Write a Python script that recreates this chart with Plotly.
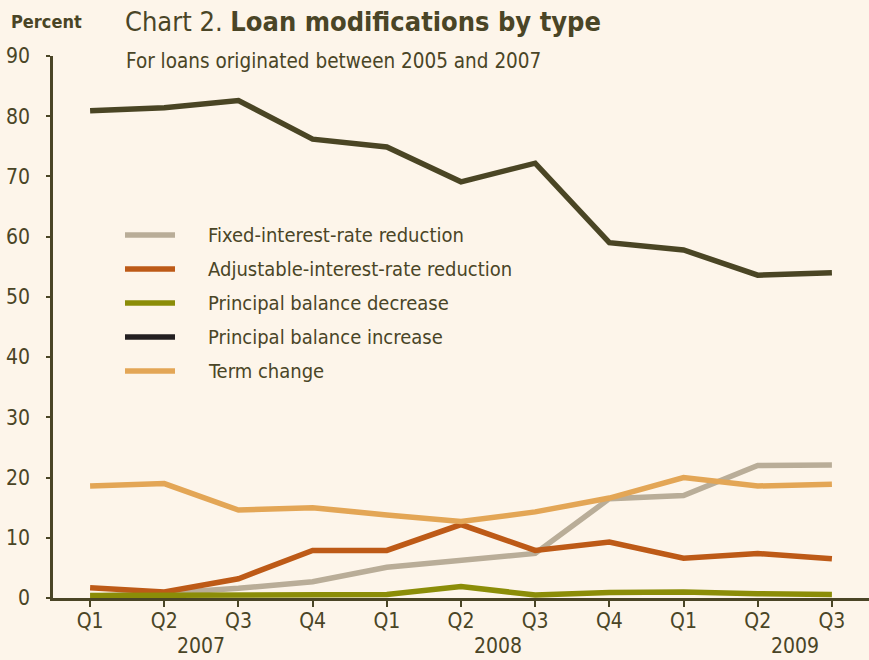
import plotly.graph_objects as go

# Quarterly categories (2007 Q1 through 2009 Q3)
quarters = ["Q1", "Q2", "Q3", "Q4", "Q1", "Q2", "Q3", "Q4", "Q1", "Q2", "Q3"]
years = ["2007", "2008", "2009"]
year_centers = [1.5, 5.5, 9.5]
y_ticks = [0, 10, 20, 30, 40, 50, 60, 70, 80, 90]

# Share of modifications by type, percent
fixed_rate_reduction = [0.3, 0.8, 1.6, 2.7, 5.1, 6.3, 7.4, 16.5, 17.0, 22.0, 22.1]
adjustable_rate_reduction = [1.7, 1.0, 3.2, 7.9, 7.9, 12.2, 7.9, 9.3, 6.6, 7.4, 6.5]
principal_decrease = [0.4, 0.4, 0.4, 0.4, 0.6, 1.9, 0.5, 0.9, 1.0, 0.7, 0.6]
principal_increase = [80.9, 81.4, 82.6, 76.2, 74.9, 69.1, 72.2, 59.0, 57.8, 53.6, 54.0]
term_change = [18.6, 19.0, 14.6, 15.0, 13.8, 12.7, 14.3, 16.6, 20.0, 18.6, 18.9]

series_names = [
    "Fixed-interest-rate reduction",
    "Adjustable-interest-rate reduction",
    "Principal balance decrease",
    "Principal balance increase",
    "Term change",
]
series_values = [fixed_rate_reduction, adjustable_rate_reduction,
                 principal_decrease, principal_increase, term_change]
line_colors = ["#b9ad98", "#bd5a17", "#8b8d08", "#4a4524", "#e3a656"]
legend_colors = ["#b9ad98", "#bd5a17", "#8b8d08", "#231f20", "#e3a656"]
draw_order = [0, 1, 4, 2, 3]

BG = "#fdf5ea"
INK = "#4a4526"
FONT = "DejaVu Sans Condensed, Liberation Sans Narrow, Arial Narrow, sans-serif"

x_idx = list(range(len(quarters)))

fig = go.Figure()
for i in draw_order:
    fig.add_trace(go.Scatter(
        x=x_idx, y=series_values[i], mode="lines", name=series_names[i],
        line=dict(color=line_colors[i], width=5.5), showlegend=False,
        hoverinfo="skip",
    ))

# Plot-area geometry in pixels for the hand-placed legend
L, T, W, H = 53, 56, 816, 542
def px_x(p):
    return (p - L) / W
def px_y(p):
    return (T + H - p) / H

shapes = []
annotations = []
for k, (name, col) in enumerate(zip(series_names, legend_colors)):
    yy = 235 + k * 34
    shapes.append(dict(type="line", xref="paper", yref="paper",
                       x0=px_x(125), x1=px_x(175), y0=px_y(yy), y1=px_y(yy),
                       line=dict(color=col, width=5.5)))
    annotations.append(dict(xref="paper", yref="paper", x=px_x(206), y=px_y(yy),
                            text=name, showarrow=False, xanchor="left", yanchor="middle",
                            font=dict(family=FONT, size=20, color=INK)))

for yr, xc in zip(years, year_centers):
    annotations.append(dict(x=xc, y=0, xref="x", yref="y", yshift=-48,
                            text=yr, showarrow=False, xanchor="center", yanchor="middle",
                            font=dict(family=FONT, size=21, color=INK)))

annotations.append(dict(xref="paper", yref="paper", x=px_x(9), y=px_y(22),
                        text="<b>Percent</b>", showarrow=False, xanchor="left", yanchor="middle",
                        font=dict(family=FONT, size=18, color=INK)))
annotations.append(dict(xref="paper", yref="paper", x=px_x(123), y=px_y(21),
                        text="Chart 2. <b>Loan modifications by type</b>", showarrow=False,
                        xanchor="left", yanchor="middle",
                        font=dict(family=FONT, size=27, color=INK)))
annotations.append(dict(xref="paper", yref="paper", x=px_x(124), y=px_y(61),
                        text="For loans originated between 2005 and 2007", showarrow=False,
                        xanchor="left", yanchor="middle",
                        font=dict(family=FONT, size=20.5, color=INK)))

fig.update_layout(
    width=869, height=660,
    margin=dict(l=L, r=0, t=T, b=660 - T - H),
    paper_bgcolor=BG, plot_bgcolor=BG,
    font=dict(family=FONT, size=21, color=INK),
    shapes=shapes, annotations=annotations,
    showlegend=False,
)
fig.update_xaxes(
    range=[-0.5, 10.5], tickmode="array", tickvals=x_idx, ticktext=quarters,
    showgrid=False, zeroline=False, showline=True, linecolor=INK, linewidth=2.5,
    ticks="outside", ticklen=6, tickwidth=2, tickcolor=INK, ticklabelstandoff=-4,
    tickfont=dict(family=FONT, size=21, color=INK), fixedrange=True,
)
fig.update_yaxes(
    range=[0, 90], tickmode="array", tickvals=y_ticks,
    showgrid=False, zeroline=False, showline=True, linecolor=INK, linewidth=2.5,
    ticks="outside", ticklen=4, tickwidth=2, tickcolor=INK, ticklabelstandoff=12,
    tickfont=dict(family=FONT, size=21, color=INK), fixedrange=True,
)

fig.write_html("out.html")
